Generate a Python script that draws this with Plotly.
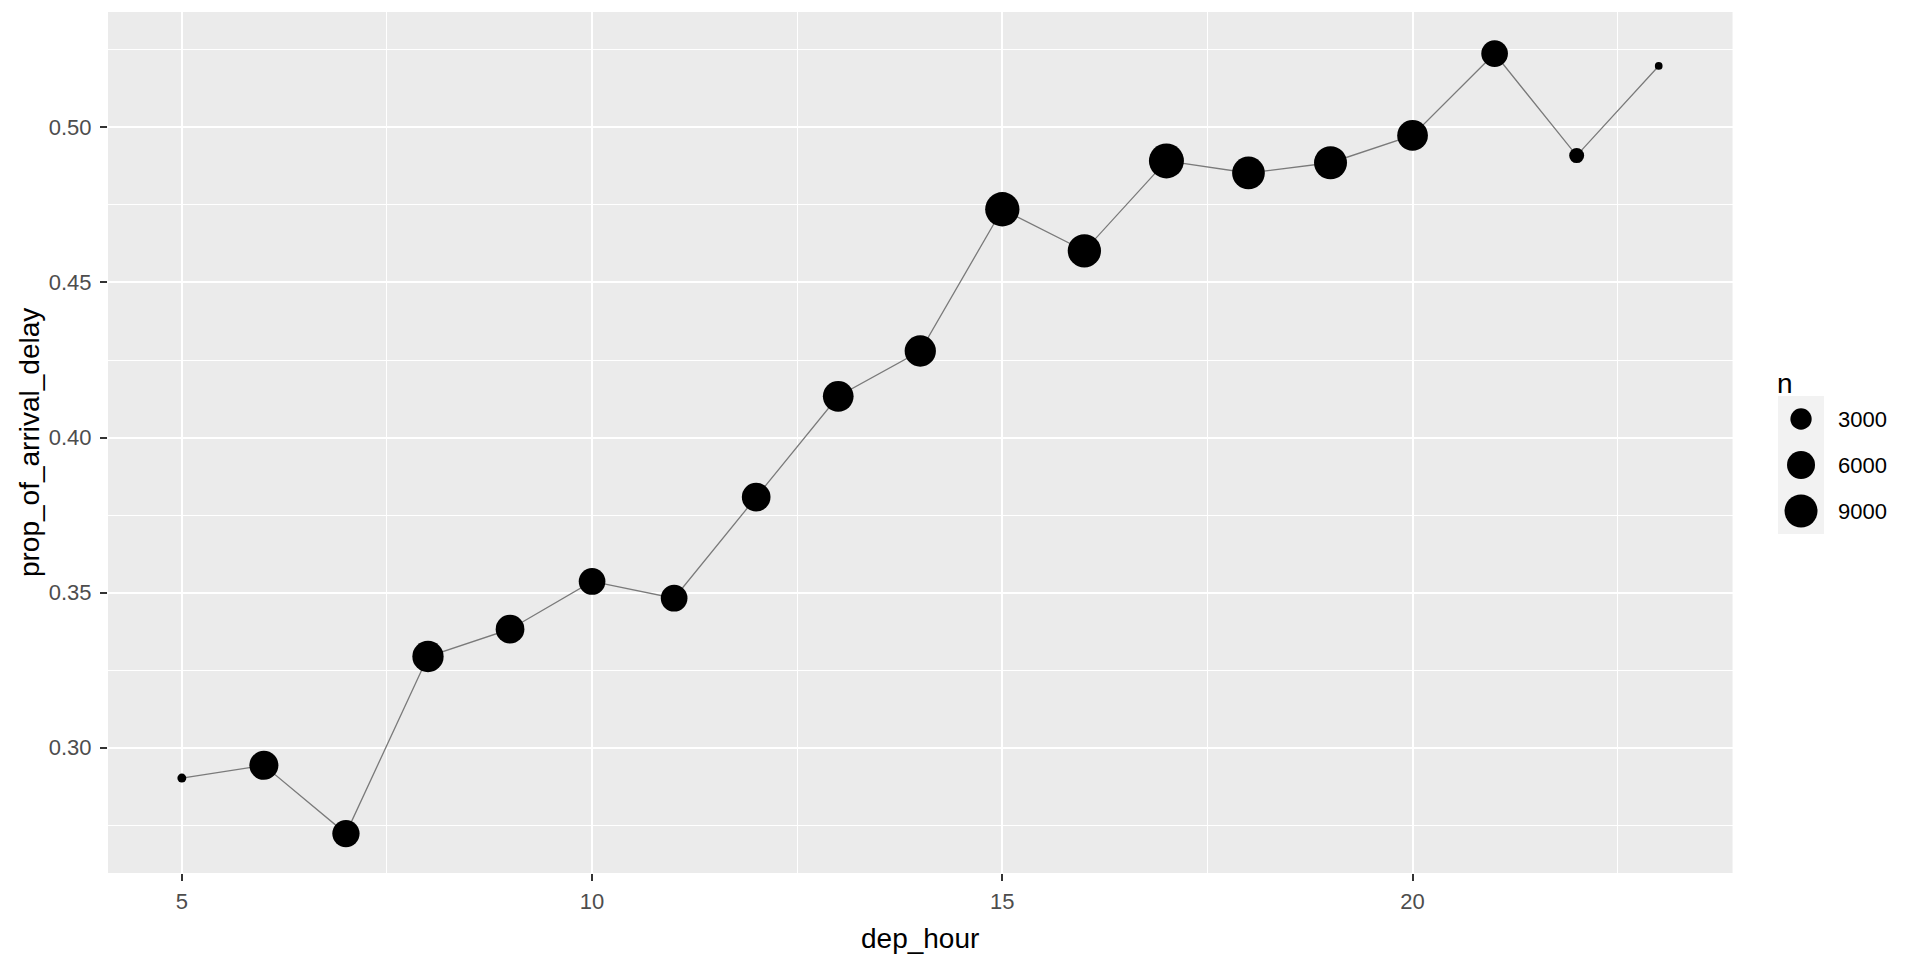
import numpy as np
import plotly.graph_objects as go

# ---- data ----
dep_hour = [5, 6, 7, 8, 9, 10, 11, 12, 13, 14, 15, 16, 17, 18, 19, 20, 21, 22, 23]
prop_of_arrival_delay = [0.2902, 0.2943, 0.2723, 0.3294, 0.3382, 0.3536, 0.3482, 0.3808,
                         0.4133, 0.4279, 0.4736, 0.4602, 0.4892, 0.4853, 0.4886, 0.4974,
                         0.5238, 0.4909, 0.5198]
n = [580, 6550, 5630, 7910, 6380, 5320, 5320, 6380, 7540, 7910, 9890, 9210, 10400,
     8810, 9010, 7540, 5320, 1260, 560]
legend_breaks = [3000, 6000, 9000]
legend_labels = ["3000", "6000", "9000"]
x_ticks = [5, 10, 15, 20]
y_ticks = [0.30, 0.35, 0.40, 0.45, 0.50]

# ---- size scale (area scale like ggplot scale_size) ----
D_MIN, D_MAX = 7.7, 35.0
n_min, n_max = min(n), max(n)


def size_px(v):
    r = (np.asarray(v, dtype=float) - n_min) / (n_max - n_min)
    r = np.clip(r, 0, 1)
    return D_MIN + (D_MAX - D_MIN) * np.sqrt(r)


FONT = "Liberation Sans, Arial, sans-serif"
W, H = 1920, 960
ML, MR, MT, MB = 107.5, 0, 12, 87
PW = W - ML - MR
PH = H - MT - MB
panel_right = 1732.5


def px_x(px):
    return (px - ML) / PW


def px_y(py):
    return (H - MB - py) / PH


fig = go.Figure()
fig.add_trace(go.Scatter(
    x=dep_hour, y=prop_of_arrival_delay, mode="lines",
    line=dict(color="#7A7A7A", width=1.3), showlegend=False, hoverinfo="skip"))
fig.add_trace(go.Scatter(
    x=dep_hour, y=prop_of_arrival_delay, mode="markers",
    marker=dict(color="black", size=size_px(n), line=dict(width=0), opacity=1),
    customdata=n, hovertemplate="dep_hour=%{x}<br>prop=%{y}<br>n=%{customdata}<extra></extra>",
    showlegend=False))

# legend keys drawn in a small hidden subplot
fig.add_trace(go.Scatter(
    x=[0.5, 0.5, 0.5], y=[2.5, 1.5, 0.5], mode="markers",
    marker=dict(color="black", size=size_px(legend_breaks), line=dict(width=0), opacity=1),
    xaxis="x2", yaxis="y2", showlegend=False, hoverinfo="skip"))

axis_common = dict(
    ticks="outside", ticklen=7, tickwidth=1.5, tickcolor="#333333",
    tickfont=dict(family=FONT, size=22, color="#4D4D4D"),
    showgrid=True, gridcolor="white", gridwidth=2,
    zeroline=False, showline=False,
)

fig.update_layout(
    width=W, height=H,
    margin=dict(l=ML, r=MR, t=MT, b=MB, autoexpand=False),
    paper_bgcolor="white", plot_bgcolor="#EBEBEB",
    font=dict(family=FONT, color="black"),
    xaxis=dict(domain=[0, px_x(panel_right)], range=[4.1, 23.9],
               tickvals=x_ticks, ticktext=[str(t) for t in x_ticks],
               minor=dict(dtick=2.5, tick0=0, showgrid=True, gridcolor="white",
                          gridwidth=1, ticks=""),
               ticklabelstandoff=2, **axis_common),
    yaxis=dict(domain=[0, 1], range=[0.2596, 0.5372],
               tickvals=y_ticks, ticktext=[f"{t:.2f}" for t in y_ticks],
               minor=dict(dtick=0.025, tick0=0, showgrid=True, gridcolor="white",
                          gridwidth=1, ticks=""),
               ticklabelstandoff=4, **axis_common),
    xaxis2=dict(domain=[px_x(1778), px_x(1824)], range=[0, 1], visible=False,
                anchor="y2", fixedrange=True),
    yaxis2=dict(domain=[px_y(534), px_y(396)], range=[0, 3], visible=False,
                anchor="x2", fixedrange=True),
    shapes=[dict(type="rect", xref="x2", yref="y2", x0=0, x1=1, y0=0, y1=3,
                 fillcolor="#F2F2F2", line=dict(width=0), layer="below")],
    showlegend=False,
)

annotations = [
    dict(text="dep_hour", xref="paper", yref="paper",
         x=px_x((ML + panel_right) / 2), y=px_y(938), xanchor="center", yanchor="middle",
         showarrow=False, font=dict(family=FONT, size=28, color="black")),
    dict(text="prop_of_arrival_delay", xref="paper", yref="paper",
         x=px_x(29), y=0.5, xanchor="center", yanchor="middle", textangle=-90,
         showarrow=False, font=dict(family=FONT, size=28, color="black")),
    dict(text="n", xref="paper", yref="paper", x=px_x(1775), y=px_y(383),
         xanchor="left", yanchor="middle", showarrow=False,
         font=dict(family=FONT, size=28, color="black")),
]
for lab, yy in zip(legend_labels, [2.5, 1.5, 0.5]):
    annotations.append(dict(text=lab, xref="paper", yref="y2", x=px_x(1836), y=yy,
                            xanchor="left", yanchor="middle", showarrow=False,
                            font=dict(family=FONT, size=22, color="black")))
fig.update_layout(annotations=annotations)

fig.write_html("out.html", config={"displayModeBar": False},
               post_script="document.body.style.margin='0px';document.body.style.padding='0px';")
